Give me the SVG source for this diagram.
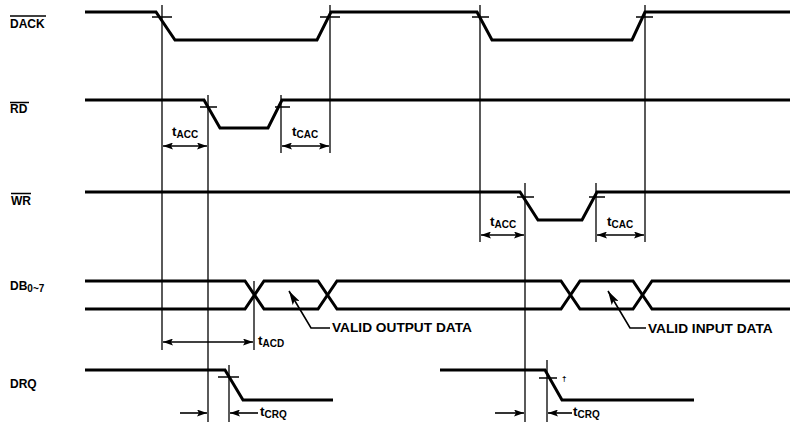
<svg xmlns="http://www.w3.org/2000/svg" width="797" height="422" viewBox="0 0 797 422">
<style>
.sig{fill:none;stroke:#000;stroke-width:3;stroke-linejoin:miter}
.ref{fill:none;stroke:#000;stroke-width:1.3}
.tick{fill:none;stroke:#000;stroke-width:1.5}
.dim{fill:none;stroke:#000;stroke-width:1.6}
.lbl{font-family:"Liberation Sans",Arial,sans-serif;font-weight:bold;font-size:12px;fill:#000}
.t{font-family:"Liberation Sans",Arial,sans-serif;font-weight:bold;font-size:13.5px;fill:#000}
.sub{font-size:10px}
.note{font-family:"Liberation Sans",Arial,sans-serif;font-weight:bold;font-size:13.7px;fill:#000}
</style>
<defs>
<marker id="ah" viewBox="0 0 10 7" refX="10" refY="3.5" markerWidth="10" markerHeight="7" markerUnits="userSpaceOnUse" orient="auto-start-reverse"><path d="M0,0 L10,3.5 L0,7 L2,3.5 z" fill="#000"/></marker>
<marker id="lh" viewBox="0 0 14 8" refX="14" refY="4" markerWidth="14" markerHeight="8" markerUnits="userSpaceOnUse" orient="auto"><path d="M0,0 L14,4 L0,8 L3,4 z" fill="#000"/></marker>
</defs>
<rect width="797" height="422" fill="#fff"/>

<g id="labels">
<text class="lbl" x="10" y="28">DACK</text><line class="tick" x1="10" y1="16" x2="46" y2="16"/>
<text class="lbl" x="10" y="113">RD</text><line class="tick" x1="10" y1="102.5" x2="29" y2="102.5"/>
<text class="lbl" x="11" y="205">WR</text><line class="tick" x1="11" y1="193.5" x2="31" y2="193.5"/>
<text class="lbl" x="10" y="290">DB<tspan class="sub" dy="2">0~7</tspan></text>
<text class="lbl" x="10" y="388">DRQ</text>
</g>

<g id="DACK">
<path class="sig" d="M85,12 H156 L175,40 H317 L331,12 H477 L492,40 H632 L645,12 H790"/>
<line class="tick" x1="152" y1="17" x2="172" y2="17"/>
<line class="tick" x1="320" y1="17" x2="340" y2="17"/>
<line class="tick" x1="472" y1="17" x2="489" y2="17"/>
<line class="tick" x1="636" y1="17" x2="653" y2="17"/>
</g>

<g id="RD">
<path class="sig" d="M85,100 H204 L220,128 H268 L282,100 H790"/>
<line class="tick" x1="200" y1="107" x2="217" y2="107"/>
<line class="tick" x1="275" y1="107" x2="290" y2="107"/>
</g>

<g id="WR">
<path class="sig" d="M85,192 H520 L538,220 H582 L597,192 H790"/>
<line class="tick" x1="517" y1="197" x2="534" y2="197"/>
<line class="tick" x1="589" y1="197" x2="605" y2="197"/>
</g>

<g id="DB">
<path class="sig" d="M85,281 H245 L264,309 H318 L337,281 H561 L580,309 H633 L652,281 H790"/>
<path class="sig" d="M85,309 H245 L264,281 H318 L337,309 H561 L580,281 H633 L652,309 H790"/>
</g>

<g id="DRQ">
<path class="sig" d="M85,370 H225 L243,400 H333"/>
<path class="sig" d="M440,370 H545 L562,400 H694"/>
<line class="tick" x1="218" y1="377" x2="239" y2="377"/>
<line class="tick" x1="539" y1="378" x2="557" y2="378"/>
<text x="562" y="381" font-family="Liberation Sans,sans-serif" font-size="8" font-weight="bold" fill="#000">†</text>
</g>

<g id="connectors">
<line class="ref" x1="162" y1="5" x2="162" y2="350"/>
<line class="ref" x1="208" y1="95" x2="208" y2="422"/>
<line class="ref" x1="281" y1="95" x2="281" y2="153"/>
<line class="ref" x1="330" y1="5" x2="330" y2="153"/>
<line class="ref" x1="254" y1="281" x2="254" y2="350"/>
<line class="ref" x1="480" y1="5" x2="480" y2="242"/>
<line class="ref" x1="525" y1="183" x2="525" y2="422"/>
<line class="ref" x1="596" y1="183" x2="596" y2="242"/>
<line class="ref" x1="645" y1="5" x2="645" y2="242"/>
<line class="ref" x1="229" y1="365" x2="229" y2="422"/>
<line class="ref" x1="547" y1="360" x2="547" y2="422"/>

<line class="dim" x1="163" y1="146" x2="207" y2="146" marker-start="url(#ah)" marker-end="url(#ah)"/>
<line class="dim" x1="282" y1="146" x2="329" y2="146" marker-start="url(#ah)" marker-end="url(#ah)"/>
<line class="dim" x1="481" y1="235" x2="524" y2="235" marker-start="url(#ah)" marker-end="url(#ah)"/>
<line class="dim" x1="597" y1="235" x2="644" y2="235" marker-start="url(#ah)" marker-end="url(#ah)"/>
<line class="dim" x1="163" y1="342" x2="253" y2="342" marker-start="url(#ah)" marker-end="url(#ah)"/>
<line class="dim" x1="180" y1="413" x2="207" y2="413" marker-end="url(#ah)"/>
<line class="dim" x1="258" y1="413" x2="230" y2="413" marker-end="url(#ah)"/>
<line class="dim" x1="495" y1="413" x2="524" y2="413" marker-end="url(#ah)"/>
<line class="dim" x1="572" y1="413" x2="548" y2="413" marker-end="url(#ah)"/>

<path class="dim" d="M330,328 H311 L289,291" marker-end="url(#lh)"/>
<path class="dim" d="M646,328 H630 L608,291" marker-end="url(#lh)"/>
</g>

<g id="timing-labels">
<text class="t" x="172" y="136">t<tspan class="sub" dy="2">ACC</tspan></text>
<text class="t" x="292" y="136">t<tspan class="sub" dy="2">CAC</tspan></text>
<text class="t" x="490" y="226">t<tspan class="sub" dy="2">ACC</tspan></text>
<text class="t" x="607" y="226">t<tspan class="sub" dy="2">CAC</tspan></text>
<text class="t" x="258" y="345">t<tspan class="sub" dy="2">ACD</tspan></text>
<text class="t" x="260" y="416">t<tspan class="sub" dy="2">CRQ</tspan></text>
<text class="t" x="573" y="416">t<tspan class="sub" dy="2">CRQ</tspan></text>
<text class="note" x="332" y="332">VALID OUTPUT DATA</text>
<text class="note" x="648" y="333">VALID INPUT DATA</text>
</g>
</svg>
